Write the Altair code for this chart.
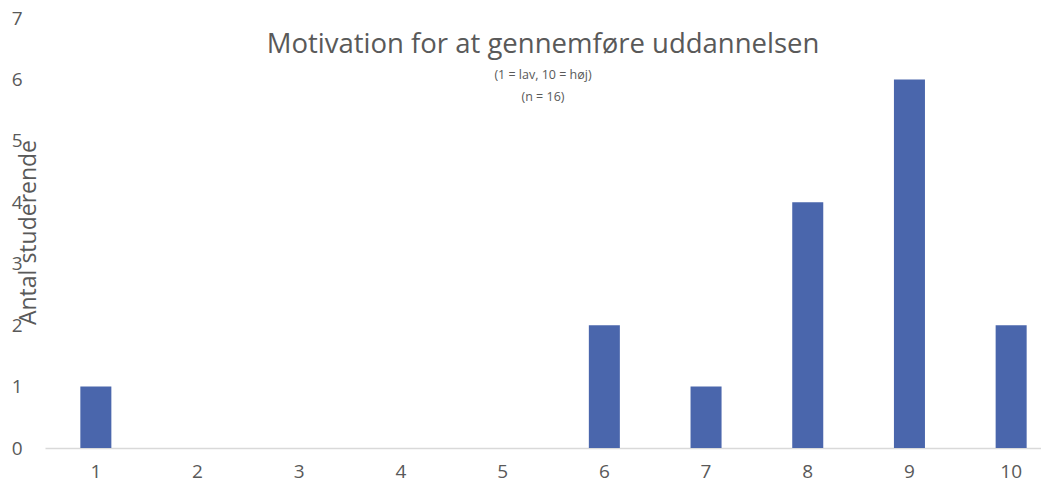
import altair as alt
import pandas as pd

scores = ["1", "2", "3", "4", "5", "6", "7", "8", "9", "10"]
counts = [1, 0, 0, 0, 0, 2, 1, 4, 6, 2]
y_ticks = [0, 1, 2, 3, 4, 5, 6, 7]

title_text = "Motivation for at gennemføre uddannelsen"
subtitle_lines = ["(1 = lav, 10 = høj)", "(n = 16)"]
y_title = "Antal studerende"

df = pd.DataFrame({"score": scores, "count": counts})

FONT = "Open Sans"
GRAY = "#595959"

chart = alt.Chart(df).mark_bar(color="#4a66ac").encode(
    x=alt.X(
        "score:N",
        sort=scores,
        scale=alt.Scale(range=[0, 1017], paddingInner=0.695, paddingOuter=0.3475),
        axis=alt.Axis(
            title=None, labelAngle=0, labelFontSize=19, labelColor=GRAY, labelFont=FONT,
            labelPadding=14, ticks=False, domainColor="#d9d9d9", domainWidth=1.5,
        ),
    ),
    y=alt.Y(
        "count:Q",
        scale=alt.Scale(domain=[0, 7], nice=False),
        axis=alt.Axis(
            title=y_title, values=y_ticks, grid=False, domain=False, ticks=False,
            labelPadding=23, labelFontSize=19, labelColor=GRAY, labelFont=FONT,
            titleFont=FONT, titleFontSize=23, titleFontWeight="normal", titleColor=GRAY,
            titleAngle=-90, titleAlign="center", titleBaseline="alphabetic",
            titleX=-10, titleY=214,
        ),
    ),
).properties(
    width=996,
    height=430,
    autosize=alt.AutoSizeParams(type="none"),
    padding={"left": 37, "top": 10, "right": 0, "bottom": 34},
    title=alt.TitleParams(
        text=title_text, subtitle=subtitle_lines, anchor="middle",
        font=FONT, fontSize=27.5, fontWeight="normal", color=GRAY,
        subtitleFont=FONT, subtitleFontSize=12.5, subtitleColor=GRAY,
        subtitlePadding=10, subtitleLineHeight=22, offset=-94,
    ),
).configure_view(stroke=None)

chart.save("out.html", embed_options={"renderer": "svg", "actions": False})
